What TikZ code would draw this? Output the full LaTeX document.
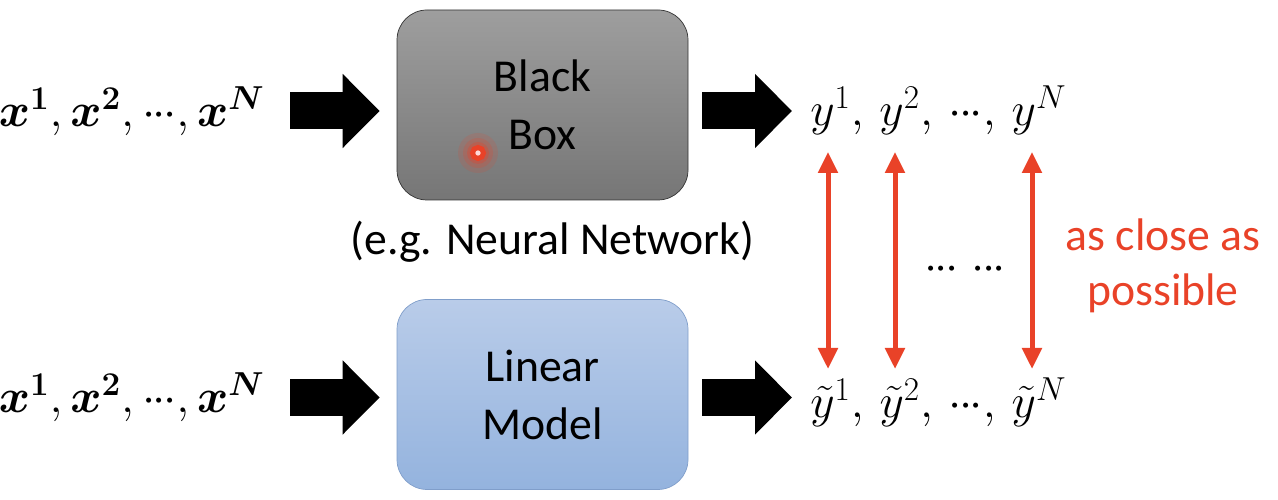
\RequirePackage{fix-cm}
\documentclass[tikz,border=0pt]{standalone}
\usepackage{amsmath}
\usepackage{fontspec}
\setmainfont{Carlito}
\usetikzlibrary{arrows.meta,positioning}
\definecolor{closered}{RGB}{233,66,40}
\definecolor{graytop}{RGB}{158,158,158}
\definecolor{graybot}{RGB}{118,118,118}
\definecolor{bluetop}{RGB}{185,204,233}
\definecolor{bluebot}{RGB}{148,179,222}
\definecolor{blueedge}{RGB}{128,158,202}
\newcommand{\bxs}[1]{\boldsymbol{x}^{\boldsymbol{#1}}}
\newcommand{\tdots}{{\cdot}\mkern-1mu{\cdot}\mkern-1mu{\cdot}}

\begin{document}
\begin{tikzpicture}[font=\fontsize{26}{33}\selectfont,
  model/.style={rounded corners=0.6cm, minimum width=5.82cm, minimum height=3.8cm, align=center, inner sep=0pt},
  seqlabel/.style={inner sep=0pt, font=\fontsize{27}{32}\selectfont},
  blockarrow/.style={line width=0.74cm, -{Triangle[width=1.44cm,length=0.74cm]}},
  closearrow/.style={closered, line width=0.1cm, {Triangle[width=0.38cm,length=0.42cm]}-{Triangle[width=0.38cm,length=0.42cm]}}]
\useasboundingbox (0,0) rectangle (25.56,10);

% the two models
\node[model, draw=black!80, top color=graytop, bottom color=graybot] (bb) at (10.85,7.9) {Black\\Box};
\node[below=0.4cm of bb, xshift=0.2cm, inner sep=0pt] (nn) {(e.g. Neural Network)};
\node[model, draw=blueedge, top color=bluetop, bottom color=bluebot] (lm) at (10.85,2.11) {Linear\\Model};

% the red dot
\fill[closered, opacity=0.15] (9.56,6.94) circle (0.4);
\fill[closered, opacity=0.2] (9.56,6.94) circle (0.3);
\fill[closered, opacity=0.3] (9.56,6.94) circle (0.22);
\draw[closered, line width=0.1cm, fill=white!85!red] (9.56,6.94) circle (0.11);

% inputs and outputs
\node[seqlabel, anchor=east] (xtop) at (5.3,7.78) {$\bxs{1},\bxs{2},\tdots,\bxs{N}$};
\node[seqlabel, anchor=east] (xbot) at (5.3,2.05) {$\bxs{1},\bxs{2},\tdots,\bxs{N}$};
\node[seqlabel, anchor=west] (ytop) at (16.2,7.8) {$y^1,\,y^2,\,\tdots,\,y^N$};
\node[seqlabel, anchor=west] (ybot) at (16.2,1.95) {$\tilde{y}^1,\,\tilde{y}^2,\,\tdots,\,\tilde{y}^N$};

\draw[blockarrow, shorten <=0.5cm, shorten >=0.34cm] (xtop.east) -- (xtop.east -| bb.west);
\draw[blockarrow, shorten <=0.5cm, shorten >=0.34cm] (xbot.east) -- (xbot.east -| lm.west);
\draw[blockarrow, shorten <=0.28cm, shorten >=0.36cm] (bb.east |- xtop.east) -- (ytop.west |- xtop.east);
\draw[blockarrow, shorten <=0.28cm, shorten >=0.36cm] (lm.east |- xbot.east) -- (ybot.west |- xbot.east);

% compare outputs
\coordinate (u1) at (16.56,6.96);
\coordinate (d1) at (16.56,2.62);
\coordinate (u2) at (17.9,6.96);
\coordinate (d2) at (17.9,2.62);
\coordinate (uN) at (20.64,6.96);
\coordinate (dN) at (20.64,2.62);
\draw[closearrow] (u1) -- (d1);
\draw[closearrow] (u2) -- (d2);
\draw[closearrow] (uN) -- (dN);
\node[seqlabel] (dots) at (19.3,4.6) {$\tdots\;\tdots$};
\node[text=closered, align=center, inner sep=0pt, font=\fontsize{26}{31}\selectfont] (close) at (23.26,4.68) {as close as\\possible};
\end{tikzpicture}
\end{document}
